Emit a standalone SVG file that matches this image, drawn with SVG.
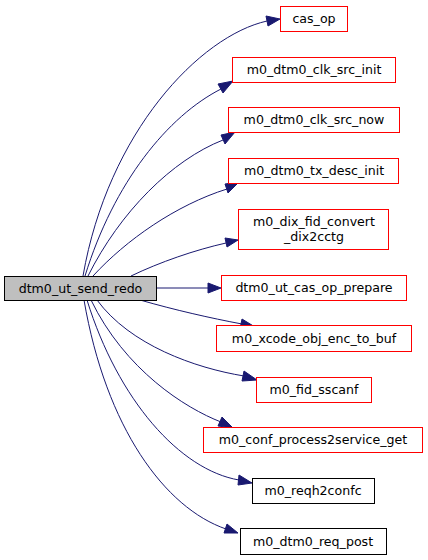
<svg xmlns="http://www.w3.org/2000/svg" width="428" height="560" viewBox="0 0 428 560">
<style>
.n rect{fill:#fff;stroke:#ff0000;stroke-width:1}
.n.b rect{stroke:#000}
.n.r rect{fill:#bfbfbf;stroke:#000}
text{font-family:"DejaVu Sans",sans-serif;font-size:12.6px;text-anchor:middle;fill:#000}
.e path{fill:none;stroke:#191970;stroke-width:1}
.e polygon{fill:#191970;stroke:#191970}
</style>
<rect width="428" height="560" fill="#fff"/>
<g class="e">
<path d="M83,276 C108,132 200,36 267,21"/><polygon points="266,16 280,19 268,26"/>
<path d="M85,276 C114,182 168,116 221,89"/><polygon points="218,84 233,81 223,93"/>
<path d="M88,276 C120,212 172,160 223,140"/><polygon points="221,135 235,132 225,144"/>
<path d="M93,276 C126,240 176,205 227,189"/><polygon points="225,184 239,182 228,193"/>
<path d="M131,276 C160,262 195,250 226,243"/><polygon points="225,238 238,240 227,247"/>
<path d="M156,288 L208,288"/><polygon points="208,283 221,288 208,293"/>
<path d="M140,300 C175,310 210,318 242,324"/><polygon points="242,319 255,327 240,329"/>
<path d="M97,300 C130,345 195,368 244,376"/><polygon points="244,371 257,380 242,381"/>
<path d="M91,300 C125,370 185,408 221,422"/><polygon points="222,417 233,428 218,426"/>
<path d="M87,300 C118,400 180,470 239,480"/><polygon points="239,475 252,483 238,485"/>
<path d="M84,300 C106,428 165,508 226,529"/><polygon points="227,524 238,533 224,533"/>
</g>
<g id="root" class="n r"><rect x="4.5" y="276.5" width="152" height="24"/><text x="80.5" y="293">dtm0_ut_send_redo</text></g>
<g id="cas_op" class="n"><rect x="280.5" y="6.5" width="67" height="25"/><text x="314" y="23">cas_op</text></g>
<g id="clk_src_init" class="n"><rect x="232.5" y="57.5" width="163" height="25"/><text x="314" y="74">m0_dtm0_clk_src_init</text></g>
<g id="clk_src_now" class="n"><rect x="228.5" y="107.5" width="171" height="25"/><text x="314" y="124">m0_dtm0_clk_src_now</text></g>
<g id="tx_desc_init" class="n"><rect x="228.5" y="158.5" width="170" height="25"/><text x="314" y="175">m0_dtm0_tx_desc_init</text></g>
<g id="dix_fid" class="n"><rect x="238.5" y="209.5" width="150" height="40"/><text x="314" y="226">m0_dix_fid_convert</text><text x="314" y="241">_dix2cctg</text></g>
<g id="cas_op_prepare" class="n"><rect x="221.5" y="275.5" width="185" height="25"/><text x="314" y="292">dtm0_ut_cas_op_prepare</text></g>
<g id="xcode" class="n"><rect x="216.5" y="325.5" width="195" height="26"/><text x="314" y="343">m0_xcode_obj_enc_to_buf</text></g>
<g id="sscanf" class="n"><rect x="256.5" y="377.5" width="115" height="25"/><text x="314" y="394">m0_fid_sscanf</text></g>
<g id="conf" class="n"><rect x="203.5" y="427.5" width="219" height="25"/><text x="313" y="444">m0_conf_process2service_get</text></g>
<g id="reqh2confc" class="n b"><rect x="252.5" y="478.5" width="122" height="25"/><text x="313" y="495">m0_reqh2confc</text></g>
<g id="req_post" class="n b"><rect x="240.5" y="528.5" width="146" height="26"/><text x="313" y="546">m0_dtm0_req_post</text></g>
</svg>
